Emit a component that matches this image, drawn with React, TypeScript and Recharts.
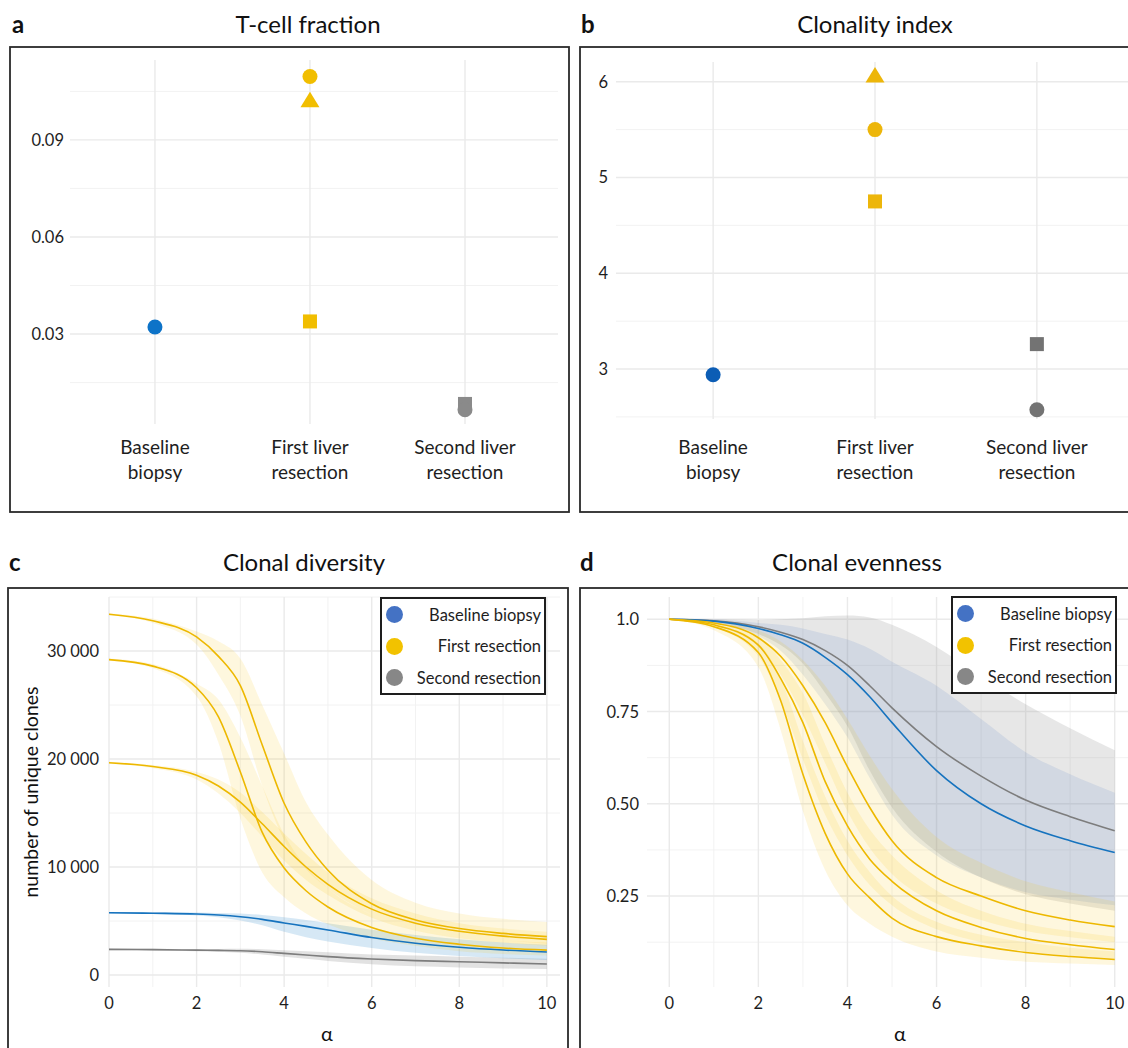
import React from "react";
import {
  ScatterChart,
  Scatter,
  ComposedChart,
  Line,
  Area,
  XAxis,
  YAxis,
  CartesianGrid,
  Legend,
} from "recharts";

const FONT = "Lato, 'Open Sans', sans-serif";
const INK = "#1e1e1e";

// ---- panels a / b : per-stage values ----
const stageLabels = [
  ["Baseline", "biopsy"],
  ["First liver", "resection"],
  ["Second liver", "resection"],
];
const stageColorsA = ["#0D73C8", "#F1BE00", "#8A8A8A"];
const stageColorsB = ["#0C5DB5", "#EDB60A", "#737373"];

const tcellCircle = [0.0322, 0.1096, 0.0066];
const tcellTriangle = [null, 0.1024, null];
const tcellSquare = [null, 0.0339, 0.0084];

const clonalityCircle = [2.94, 5.5, 2.575];
const clonalityTriangle = [null, 6.07, null];
const clonalitySquare = [null, 4.75, 3.26];

// ---- panels c / d : Hill curves over alpha ----
const alphaGrid = [0, 1, 2, 2.5, 3, 3.5, 4, 4.5, 5, 6, 7, 8, 9, 10];

const divBaseline = [5770, 5720, 5650, 5560, 5400, 5150, 4820, 4500, 4170, 3470, 2940, 2570, 2310, 2130];
const divBaselineLo = [5700, 5640, 5520, 5350, 5050, 4600, 4000, 3500, 3100, 2500, 2050, 1750, 1550, 1400];
const divBaselineHi = [5840, 5800, 5780, 5750, 5700, 5550, 5350, 5100, 4800, 4200, 3700, 3300, 3000, 2800];
const divFirst1 = [33400, 32800, 31300, 29500, 26800, 21300, 15900, 12300, 9700, 6600, 5100, 4300, 3850, 3550];
const divFirst1Lo = [33300, 32600, 30600, 27800, 24000, 17500, 12500, 9800, 8000, 5600, 4300, 3600, 3200, 2900];
const divFirst1Hi = [33500, 33000, 31800, 30900, 29300, 25000, 20500, 16000, 13000, 8800, 6700, 5700, 5200, 4900];
const divFirst2 = [29200, 28600, 26600, 23900, 18800, 13200, 9900, 7800, 6300, 4400, 3400, 2850, 2500, 2300];
const divFirst2Lo = [29100, 28400, 25800, 21500, 14500, 9500, 7200, 5700, 4700, 3400, 2700, 2200, 1950, 1800];
const divFirst2Hi = [29300, 28800, 27000, 25500, 22000, 17500, 13000, 10000, 8000, 5600, 4300, 3600, 3200, 3000];
const divFirst3 = [19650, 19300, 18500, 17500, 16000, 14000, 11900, 10000, 8400, 6100, 4800, 4050, 3600, 3300];
const divFirst3Lo = [19550, 19150, 18100, 16800, 15000, 12800, 10600, 8800, 7400, 5300, 4100, 3400, 3000, 2700];
const divFirst3Hi = [19750, 19450, 18800, 18100, 16900, 15100, 13100, 11200, 9500, 7100, 5700, 4800, 4300, 4000];
const divSecond = [2370, 2350, 2300, 2280, 2250, 2150, 2000, 1850, 1700, 1480, 1330, 1230, 1120, 1020];
const divSecondLo = [2300, 2280, 2200, 2150, 2050, 1900, 1700, 1500, 1300, 1000, 800, 700, 600, 550];
const divSecondHi = [2440, 2420, 2400, 2400, 2420, 2380, 2300, 2200, 2100, 1900, 1800, 1700, 1600, 1500];

const evBaseline = [1, 0.995, 0.975, 0.958, 0.935, 0.897, 0.85, 0.79, 0.72, 0.59, 0.5, 0.44, 0.4, 0.368];
const evBaselineLo = [1, 0.99, 0.955, 0.915, 0.85, 0.77, 0.68, 0.57, 0.47, 0.36, 0.3, 0.26, 0.24, 0.225];
const evBaselineHi = [1, 1, 0.99, 0.985, 0.975, 0.96, 0.945, 0.92, 0.885, 0.82, 0.73, 0.64, 0.58, 0.53];
const evSecond = [1, 0.996, 0.98, 0.965, 0.945, 0.915, 0.875, 0.82, 0.76, 0.655, 0.575, 0.51, 0.465, 0.427];
const evSecondLo = [1, 0.99, 0.96, 0.93, 0.88, 0.8, 0.71, 0.59, 0.49, 0.37, 0.3, 0.255, 0.23, 0.21];
const evSecondHi = [1, 1, 0.998, 1, 1.003, 1.008, 1.01, 1.005, 0.985, 0.925, 0.845, 0.77, 0.705, 0.645];
const evFirst1 = [1, 0.99, 0.95, 0.9, 0.82, 0.72, 0.6, 0.49, 0.4, 0.3, 0.25, 0.21, 0.185, 0.167];
const evFirst1Lo = [1, 0.983, 0.925, 0.85, 0.74, 0.61, 0.48, 0.38, 0.31, 0.23, 0.185, 0.155, 0.138, 0.125];
const evFirst1Hi = [1, 0.995, 0.97, 0.94, 0.89, 0.82, 0.73, 0.63, 0.54, 0.41, 0.34, 0.29, 0.26, 0.235];
const evFirst2 = [1, 0.985, 0.93, 0.84, 0.72, 0.56, 0.44, 0.35, 0.29, 0.21, 0.165, 0.135, 0.118, 0.105];
const evFirst2Lo = [1, 0.978, 0.9, 0.78, 0.62, 0.47, 0.36, 0.28, 0.225, 0.16, 0.125, 0.1, 0.088, 0.078];
const evFirst2Hi = [1, 0.99, 0.955, 0.89, 0.8, 0.66, 0.53, 0.43, 0.36, 0.265, 0.21, 0.175, 0.155, 0.14];
const evFirst3 = [1, 0.98, 0.91, 0.78, 0.58, 0.42, 0.31, 0.245, 0.19, 0.14, 0.115, 0.097, 0.086, 0.078];
const evFirst3Lo = [1, 0.97, 0.87, 0.7, 0.48, 0.32, 0.225, 0.175, 0.14, 0.1, 0.083, 0.072, 0.067, 0.063];
const evFirst3Hi = [1, 0.987, 0.935, 0.84, 0.67, 0.52, 0.4, 0.315, 0.25, 0.18, 0.145, 0.125, 0.11, 0.1];

const legendLabels = ["Baseline biopsy", "First resection", "Second resection"];
const legendColors = ["#4472C4", "#F2C200", "#878787"];

const YELLOW = "#EDB800";
const BLUE = "#1673BE";
const GREY = "#7D7D7D";
const CURVE = "monotone";

const toPoints = (vals: (number | null)[]) =>
  vals.flatMap((v, i) => (v == null ? [] : [{ x: i + 1, y: v, stage: i }]));

const makeMarker = (kind: string, colors: string[]) => (props: any) => {
  const { cx, cy, payload } = props;
  const c = colors[payload.stage];
  if (kind === "square") return <rect x={cx - 7} y={cy - 7} width={14} height={14} fill={c} />;
  if (kind === "triangle")
    return <polygon points={`${cx},${cy - 8} ${cx - 9.5},${cy + 7.5} ${cx + 9.5},${cy + 7.5}`} fill={c} />;
  return <circle cx={cx} cy={cy} r={7.5} fill={c} />;
};

const CategoryTick = (props: any) => {
  const { x, y, payload, line1, line2 } = props;
  const lines = stageLabels[payload.value - 1] || ["", ""];
  return (
    <g>
      <text x={x} y={y + line1} textAnchor="middle" dominantBaseline="central" fontSize={19} fill={INK} fontFamily={FONT}>
        {lines[0]}
      </text>
      <text x={x} y={y + line2} textAnchor="middle" dominantBaseline="central" fontSize={19} fill={INK} fontFamily={FONT}>
        {lines[1]}
      </text>
    </g>
  );
};

const ValueTick = (props: any) => {
  const { x, y, payload, fmt, anchor, dy } = props;
  return (
    <text x={x} y={y + (dy || 0)} textAnchor={anchor} dominantBaseline="central" fontSize={16.5} fill={INK} fontFamily={FONT}>
      {fmt(payload.value)}
    </text>
  );
};

function StageChart(props: any) {
  const { width, height, margin, yWidth, xHeight, xDomain, domain, majors, minors, circles, triangles, squares, colors, fmt, tickGap, line1, line2 } = props;
  return (
    <ScatterChart width={width} height={height} margin={margin}>
      <CartesianGrid stroke="#F1F1F1" strokeWidth={0.9} horizontalValues={minors} vertical={false} />
      <CartesianGrid stroke="#EAEAEA" strokeWidth={1.4} horizontalValues={majors} verticalValues={[1, 2, 3]} />
      <XAxis
        type="number"
        dataKey="x"
        domain={xDomain}
        ticks={[1, 2, 3]}
        interval={0}
        allowDataOverflow
        axisLine={false}
        tickLine={false}
        tickSize={0}
        tickMargin={0}
        height={xHeight}
        tick={<CategoryTick line1={line1} line2={line2} />}
      />
      <YAxis
        type="number"
        dataKey="y"
        domain={domain}
        ticks={majors}
        allowDataOverflow
        axisLine={false}
        tickLine={false}
        tickSize={0}
        tickMargin={tickGap}
        width={yWidth}
        tick={<ValueTick fmt={fmt} anchor="end" />}
      />
      <Scatter data={toPoints(squares)} shape={makeMarker("square", colors)} isAnimationActive={false} />
      <Scatter data={toPoints(circles)} shape={makeMarker("circle", colors)} isAnimationActive={false} />
      <Scatter data={toPoints(triangles)} shape={makeMarker("triangle", colors)} isAnimationActive={false} />
    </ScatterChart>
  );
}

const LegendBox = () => (
  <div
    style={{
      width: 166,
      height: 98,
      border: "2px solid #1e1e1e",
      boxSizing: "border-box",
      background: "#fff",
      fontFamily: FONT,
      fontSize: 16.5,
      color: INK,
    }}
  >
    {legendLabels.map((label, i) => (
      <div
        key={label}
        style={{ height: 31.5, display: "flex", alignItems: "center", justifyContent: "space-between", padding: "0 3px 0 4px" }}
      >
        <span style={{ width: 17, height: 17, borderRadius: 9, background: legendColors[i], display: "inline-block" }} />
        <span>{label}</span>
      </div>
    ))}
  </div>
);

const withRange = (lo: number[], hi: number[], i: number) => [lo[i], hi[i]];

const diversityRows = alphaGrid.map((a, i) => ({
  alpha: a,
  base: divBaseline[i],
  baseR: withRange(divBaselineLo, divBaselineHi, i),
  f1: divFirst1[i],
  f1R: withRange(divFirst1Lo, divFirst1Hi, i),
  f2: divFirst2[i],
  f2R: withRange(divFirst2Lo, divFirst2Hi, i),
  f3: divFirst3[i],
  f3R: withRange(divFirst3Lo, divFirst3Hi, i),
  sec: divSecond[i],
  secR: withRange(divSecondLo, divSecondHi, i),
}));

const evennessRows = alphaGrid.map((a, i) => ({
  alpha: a,
  base: evBaseline[i],
  baseR: withRange(evBaselineLo, evBaselineHi, i),
  f1: evFirst1[i],
  f1R: withRange(evFirst1Lo, evFirst1Hi, i),
  f2: evFirst2[i],
  f2R: withRange(evFirst2Lo, evFirst2Hi, i),
  f3: evFirst3[i],
  f3R: withRange(evFirst3Lo, evFirst3Hi, i),
  sec: evSecond[i],
  secR: withRange(evSecondLo, evSecondHi, i),
}));

function CurveChart(props: any) {
  const { rows, width, yWidth, xDomain, yDomain, yTicks, yMinor, fmt, yGap, legendLeft, legendTop, ribbons } = props;
  const area = (key: string, fill: string, op: number) => (
    <Area dataKey={key} type={CURVE} stroke="none" fill={fill} fillOpacity={op} isAnimationActive={false} activeDot={false} />
  );
  const line = (key: string, color: string) => (
    <Line dataKey={key} type={CURVE} stroke={color} strokeWidth={1.6} dot={false} activeDot={false} isAnimationActive={false} />
  );
  return (
    <ComposedChart width={width} height={460} data={rows} margin={{ top: 9, right: 9, bottom: 0, left: 0 }}>
      <CartesianGrid stroke="#F1F1F1" strokeWidth={0.9} horizontalValues={yMinor} verticalValues={[1, 3, 5, 7, 9]} />
      <CartesianGrid stroke="#EAEAEA" strokeWidth={1.4} horizontalValues={yTicks} verticalValues={[0, 2, 4, 6, 8, 10]} />
      <XAxis
        type="number"
        dataKey="alpha"
        domain={xDomain}
        ticks={[0, 2, 4, 6, 8, 10]}
        interval={0}
        allowDataOverflow
        axisLine={false}
        tickLine={false}
        tickSize={0}
        tickMargin={0}
        height={61}
        tick={<ValueTick fmt={(v: number) => String(v)} anchor="middle" dy={16} />}
      />
      <YAxis
        type="number"
        domain={yDomain}
        ticks={yTicks}
        allowDataOverflow
        axisLine={false}
        tickLine={false}
        tickSize={0}
        tickMargin={yGap}
        width={yWidth}
        tick={<ValueTick fmt={fmt} anchor="end" />}
      />
      {area("secR", ribbons.grey, ribbons.greyOp)}
      {area("baseR", ribbons.blue, ribbons.blueOp)}
      {area("f1R", "#F5C400", 0.13)}
      {area("f2R", "#F5C400", 0.13)}
      {area("f3R", "#F5C400", 0.13)}
      {line("sec", GREY)}
      {line("base", BLUE)}
      {line("f1", YELLOW)}
      {line("f2", YELLOW)}
      {line("f3", YELLOW)}
      <Legend
        layout="vertical"
        align="center"
        verticalAlign="middle"
        content={() => <LegendBox />}
        wrapperStyle={{ left: legendLeft, top: legendTop, width: 166, height: 98 }}
      />
    </ComposedChart>
  );
}

const thousands = (v: number) => (v === 0 ? "0" : `${v / 1000} 000`);
const evenFmt = (v: number) => (v === 1 ? "1.0" : v.toFixed(2));

export default function App() {
  const abs = (left: number, top: number): React.CSSProperties => ({ position: "absolute", left, top });
  return (
    <div
      style={{
        position: "fixed",
        left: 0,
        top: 0,
        width: 1128,
        height: 1048,
        overflow: "hidden",
        background: "#fff",
        fontFamily: FONT,
      }}
    >
      <div style={abs(10, 47)}>
        <StageChart
          width={559}
          height={465}
          margin={{ top: 13, right: 11, bottom: 0, left: 0 }}
          yWidth={60}
          xHeight={88}
          xDomain={[0.452, 3.6]}
          domain={[0.0022, 0.1147]}
          majors={[0.03, 0.06, 0.09]}
          minors={[0.015, 0.045, 0.075, 0.105]}
          circles={tcellCircle}
          triangles={tcellTriangle}
          squares={tcellSquare}
          colors={stageColorsA}
          fmt={(v: number) => v.toFixed(2)}
          tickGap={6}
          line1={22}
          line2={47}
        />
      </div>
      <div style={abs(580, 47)}>
        <StageChart
          width={565}
          height={465}
          margin={{ top: 15, right: 11, bottom: 0, left: 0 }}
          yWidth={36}
          xHeight={93}
          xDomain={[0.4, 3.6]}
          domain={[2.478, 6.206]}
          majors={[3, 4, 5, 6]}
          minors={[2.5, 3.5, 4.5, 5.5]}
          circles={clonalityCircle}
          triangles={clonalityTriangle}
          squares={clonalitySquare}
          colors={stageColorsB}
          fmt={(v: number) => String(v)}
          tickGap={8}
          line1={27.5}
          line2={52}
        />
      </div>
      <div style={abs(8, 588)}>
        <CurveChart
          rows={diversityRows}
          width={561}
          yWidth={101}
          xDomain={[0, 10.3]}
          yDomain={[-1111, 35000]}
          yTicks={[0, 10000, 20000, 30000]}
          yMinor={[5000, 15000, 25000, 35000]}
          fmt={thousands}
          yGap={10}
          legendLeft={372}
          legendTop={9}
          ribbons={{ grey: "#8C8C8C", greyOp: 0.25, blue: "#5BA4D9", blueOp: 0.25 }}
        />
      </div>
      <div style={abs(580, 588)}>
        <CurveChart
          rows={evennessRows}
          width={566}
          yWidth={67}
          xDomain={[-0.5, 10.5]}
          yDomain={[0.0035, 1.0604]}
          yTicks={[0.25, 0.5, 0.75, 1]}
          yMinor={[0.125, 0.375, 0.625, 0.875]}
          fmt={evenFmt}
          yGap={8}
          legendLeft={371}
          legendTop={8}
          ribbons={{ grey: "#9A9A9A", greyOp: 0.24, blue: "#4472C4", blueOp: 0.13 }}
        />
      </div>
      <svg width={1128} height={1048} style={{ position: "absolute", left: 0, top: 0, pointerEvents: "none" }}>
        <g fill="none" stroke="#2a2a2a" strokeWidth={1.8}>
          <rect x={10} y={47} width={559} height={465} />
          <rect x={580} y={47} width={600} height={465} />
          <rect x={8} y={588} width={560} height={500} />
          <rect x={580} y={588} width={600} height={500} />
        </g>
        <g fontFamily={FONT} fill="#111">
          <text x={12} y={33} fontSize={24} fontWeight={700}>a</text>
          <text x={581} y={33} fontSize={24} fontWeight={700}>b</text>
          <text x={9} y={571} fontSize={24} fontWeight={700}>c</text>
          <text x={580} y={571} fontSize={24} fontWeight={700}>d</text>
          <text x={308} y={33} fontSize={24} textAnchor="middle">T-cell fraction</text>
          <text x={875} y={33} fontSize={24} textAnchor="middle">Clonality index</text>
          <text x={304} y={571} fontSize={24} textAnchor="middle">Clonal diversity</text>
          <text x={857} y={571} fontSize={24} textAnchor="middle">Clonal evenness</text>
          <text x={327} y={1033} fontSize={20} textAnchor="middle" dominantBaseline="central">α</text>
          <text x={900} y={1033} fontSize={20} textAnchor="middle" dominantBaseline="central">α</text>
          <text
            x={30}
            y={792}
            fontSize={19.5}
            textAnchor="middle"
            dominantBaseline="central"
            transform="rotate(-90 30 792)"
          >
            number of unique clones
          </text>
        </g>
      </svg>
    </div>
  );
}
